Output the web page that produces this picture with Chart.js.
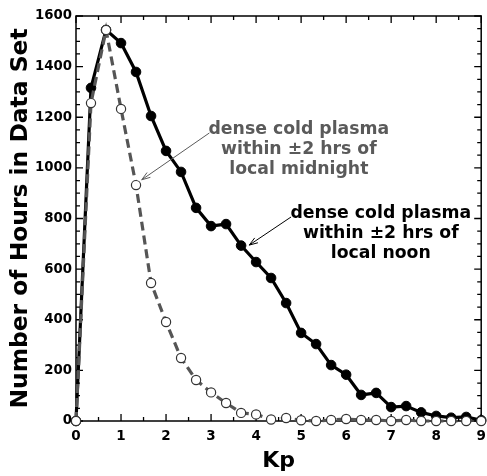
<!DOCTYPE html>
<html><head><meta charset="utf-8">
<script src="https://cdn.jsdelivr.net/npm/chart.js@4/dist/chart.umd.min.js"></script>
<style>html,body{margin:0;padding:0;background:#fff}#wrap{width:487px;height:476px}</style>
</head><body><div id="wrap"><canvas id="c" width="487" height="476"></canvas></div>
<script>
// ---- data ----
const kpValues = [0,0.333,0.667,1,1.333,1.667,2,2.333,2.667,3,3.333,3.667,4,4.333,4.667,5,5.333,5.667,6,6.333,6.667,7,7.333,7.667,8,8.333,8.667,9];
const noonHours = [0,1316,1545,1493,1379,1205,1067,984,842,770,778,693,628,565,466,348,304,221,183,103,111,55,59,34,20,13,16,3];
const midnightHours = [0,1256,1545,1233,932,545,391,249,162,113,71,32,26,6,12,3,0,4,8,4,4,0,4,0,0,0,0,0];
const xTickValues = [0,1,2,3,4,5,6,7,8,9];
const yTickValues = [0,200,400,600,800,1000,1200,1400,1600];
const midnightLabel = ['dense cold plasma','within \u00b12 hrs of','local midnight'];
const noonLabel = ['dense cold plasma','within \u00b12 hrs of','local noon'];
const xTitle = 'Kp';
const yTitle = 'Number of Hours in Data Set';

const FONT = '"DejaVu Sans", "Liberation Sans", sans-serif';
Chart.defaults.color = '#000';
Chart.defaults.font.family = FONT;

const frameTicks = {
  id: 'frameTicks',
  beforeDatasetsDraw(chart) {
    const {ctx, chartArea: a, scales: {x, y}} = chart;
    ctx.save();
    ctx.strokeStyle = '#000';
    ctx.lineWidth = 1.5;
    ctx.strokeRect(a.left, a.top, a.right - a.left, a.bottom - a.top);
    ctx.lineWidth = 1.3;
    ctx.beginPath();
    for (let i = 0; i <= (x.max - x.min) * 2; i++) {
      const v = x.min + i * 0.5;
      const px = x.getPixelForValue(v);
      const len = i % 2 === 0 ? 7 : 4;
      ctx.moveTo(px, a.bottom); ctx.lineTo(px, a.bottom - len);
      ctx.moveTo(px, a.top); ctx.lineTo(px, a.top + len);
    }
    for (let v = y.min; v <= y.max; v += 50) {
      const py = y.getPixelForValue(v);
      const len = v % 200 === 0 ? 7 : 4;
      ctx.moveTo(a.left, py); ctx.lineTo(a.left + len, py);
      ctx.moveTo(a.right, py); ctx.lineTo(a.right - len, py);
    }
    ctx.stroke();
    ctx.restore();
  }
};

function arrow(ctx, x1, y1, x2, y2, color) {
  const ang = Math.atan2(y2 - y1, x2 - x1);
  const L = 9, w = 0.33;
  ctx.strokeStyle = color;
  ctx.lineWidth = 1;
  ctx.beginPath();
  ctx.moveTo(x1, y1); ctx.lineTo(x2, y2);
  ctx.moveTo(x2 - L * Math.cos(ang - w), y2 - L * Math.sin(ang - w));
  ctx.lineTo(x2, y2);
  ctx.lineTo(x2 - L * Math.cos(ang + w), y2 - L * Math.sin(ang + w));
  ctx.stroke();
}

const notes = {
  id: 'notes',
  afterDatasetsDraw(chart) {
    const {ctx, scales: {x, y}} = chart;
    ctx.save();
    ctx.font = 'bold 17.3px ' + FONT;
    ctx.textAlign = 'center';
    ctx.textBaseline = 'alphabetic';
    ctx.fillStyle = '#5a5a5a';
    let cx = x.getPixelForValue(4.95), by = y.getPixelForValue(1134);
    midnightLabel.forEach((t, i) => ctx.fillText(t, cx, by + i * 20));
    arrow(ctx, x.getPixelForValue(2.963), y.getPixelForValue(1138), x.getPixelForValue(1.46), y.getPixelForValue(953), '#5a5a5a');
    ctx.fillStyle = '#000';
    cx = x.getPixelForValue(6.77); by = y.getPixelForValue(802);
    noonLabel.forEach((t, i) => ctx.fillText(t, cx, by + i * 20));
    arrow(ctx, x.getPixelForValue(4.777), y.getPixelForValue(806), x.getPixelForValue(3.848), y.getPixelForValue(695), '#000');
    ctx.restore();
  }
};

new Chart(document.getElementById('c'), {
  type: 'line',
  data: {
    datasets: [
      {
        label: 'midnight',
        data: kpValues.map((k, i) => ({x: k, y: midnightHours[i]})),
        borderColor: '#555',
        borderWidth: 3.2,
        borderDash: [9, 5],
        pointRadius: 4.6,
        pointBackgroundColor: '#fff',
        pointBorderColor: '#333',
        pointBorderWidth: 1.2,
        tension: 0,
        clip: false
      },
      {
        label: 'noon',
        data: kpValues.map((k, i) => ({x: k, y: noonHours[i]})),
        borderColor: '#000',
        borderWidth: 3.2,
        pointRadius: 4.8,
        pointBackgroundColor: '#000',
        pointBorderColor: '#000',
        pointBorderWidth: 1,
        tension: 0,
        clip: false
      }
    ]
  },
  options: {
    responsive: false,
    animation: false,
    layout: {padding: {top: 16, right: 4, left: 0, bottom: 0}},
    plugins: {legend: {display: false}, tooltip: {enabled: false}},
    scales: {
      x: {
        type: 'linear', min: 0, max: 9,
        afterFit(s) { s.height = 55; s.paddingLeft = 0; s.paddingRight = 0; },
        afterBuildTicks(s) { s.ticks = xTickValues.map(v => ({value: v})); },
        grid: {display: false, drawTicks: false},
        border: {display: false},
        ticks: {padding: 7, font: {size: 13.5, weight: 'bold'}, color: '#000', maxRotation: 0,
                callback: v => String(v)},
        title: {display: true, text: xTitle, font: {size: 22, weight: 'bold'}, color: '#000', padding: {top: 0, bottom: 2}}
      },
      y: {
        type: 'linear', min: 0, max: 1600,
        afterFit(s) { s.width = 76; s.paddingTop = 0; s.paddingBottom = 0; },
        afterBuildTicks(s) { s.ticks = yTickValues.map(v => ({value: v})); },
        grid: {display: false, drawTicks: false},
        border: {display: false},
        ticks: {padding: 4, font: {size: 13.3, weight: 'bold'}, color: '#000', callback: v => String(v)},
        title: {display: true, text: yTitle, font: {size: 23.4, weight: 'bold'}, color: '#000', padding: {top: 7, bottom: 0}}
      }
    }
  },
  plugins: [frameTicks, notes]
});
</script>
</body></html>
